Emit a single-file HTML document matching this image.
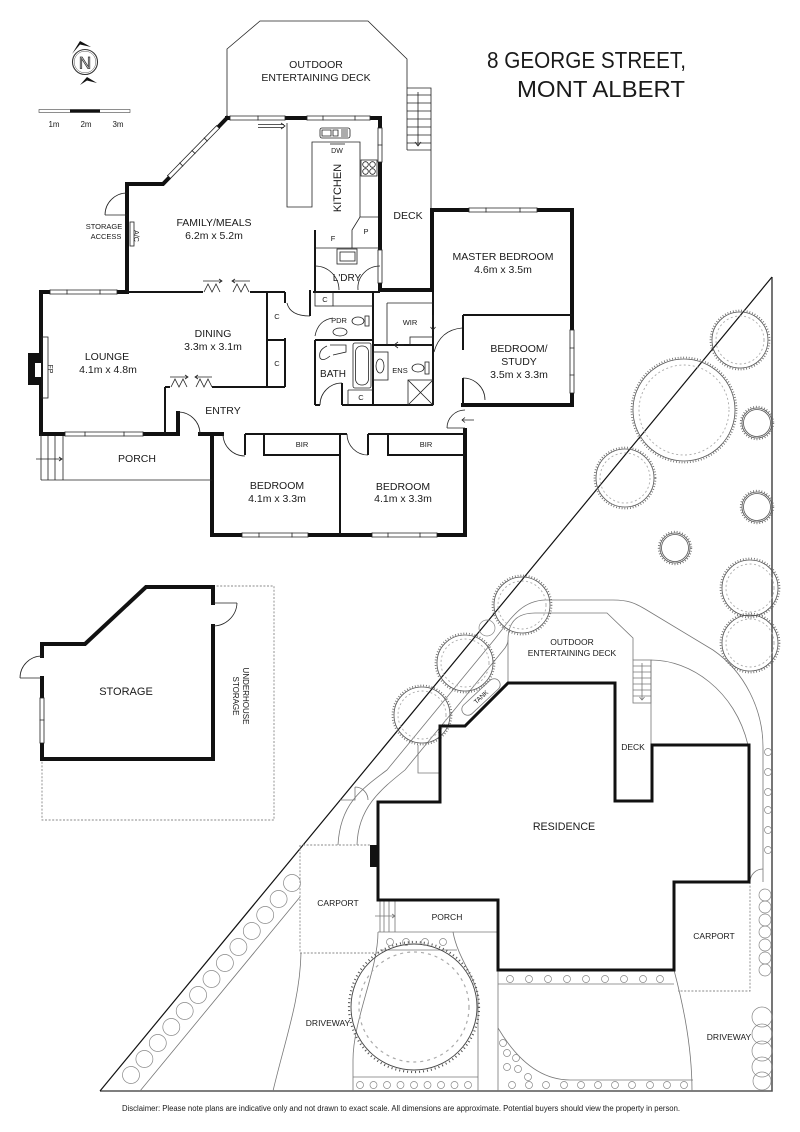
<!DOCTYPE html>
<html><head><meta charset="utf-8">
<style>
html,body{margin:0;padding:0;background:#fff;}
svg{display:block;}
text{font-family:"Liberation Sans",Arial,sans-serif;fill:#1a1a1a;text-anchor:middle;}
.w{stroke:#111;stroke-width:4;fill:none;stroke-linecap:square;stroke-linejoin:miter}
.h{stroke:#111;stroke-width:3;fill:none;stroke-linecap:square;stroke-linejoin:miter}
.m{stroke:#151515;stroke-width:2;fill:none}
.t{stroke:#222;stroke-width:.8;fill:none}
.g{stroke:#777;stroke-width:.8;fill:none}
.gd{stroke:#888;stroke-width:.9;fill:none;stroke-dasharray:2 1.6}
.win{stroke:#fff;stroke-width:5;fill:none}
.c{fill:none;stroke:#888;stroke-width:.7}
.to{fill:none;stroke:#555;stroke-width:.8}
.fr{fill:none;stroke:#666;stroke-width:1.8;stroke-dasharray:.8 2}
.in{fill:none;stroke:#aaa;stroke-width:.9;stroke-dasharray:2 2.5}
.L{font-size:10.5px}
.S{font-size:7.5px}
.P{font-size:8.5px}
</style></head><body>
<svg width="800" height="1132" viewBox="0 0 800 1132" xmlns="http://www.w3.org/2000/svg">

<!-- TITLE -->
<text x="487" y="68" style="font-size:23.5px;text-anchor:start" textLength="199" lengthAdjust="spacingAndGlyphs">8 GEORGE STREET,</text>
<text x="517" y="97" style="font-size:23.5px;text-anchor:start" textLength="168" lengthAdjust="spacingAndGlyphs">MONT ALBERT</text>

<!-- COMPASS -->
<circle cx="85" cy="62" r="12.5" fill="none" stroke="#333" stroke-width="1.1"/>
<circle cx="85" cy="62" r="10.8" fill="none" stroke="#555" stroke-width=".5"/>
<text x="85" y="68.5" style="font-size:17px;fill:#fff;stroke:#333;stroke-width:.8">N</text>
<path d="M72,54 L80,41 L91,47 L80,44.5 Z" fill="#111"/>
<path d="M80,85 L87,77 L97,83 L87,80.5 Z" fill="#111"/>

<!-- SCALE BAR -->
<rect x="39" y="109.5" width="91" height="3" fill="#fff" stroke="#444" stroke-width=".6"/>
<rect x="70" y="109.5" width="30" height="3" fill="#111"/>
<text x="54" y="127" style="font-size:8px">1m</text>
<text x="86" y="127" style="font-size:8px">2m</text>
<text x="118" y="127" style="font-size:8px">3m</text>

<!-- ================= FLOOR PLAN ================= -->
<polyline class="t" points="227,118 227,49 260,21 368,21 407,59 407,150"/>
<polyline class="t" points="407,88 431,88 431,210"/>
<path class="t" d="M407,150H431 M407,95H431 M407,103H431 M407,111H431 M407,119H431 M407,127H431 M407,135H431 M407,143H431"/>
<path class="t" d="M418,92V146 M415,142 L418,146 L421,142"/>
<text x="316" y="68" class="L">OUTDOOR</text>
<text x="316" y="81" class="L">ENTERTAINING DECK</text>

<path class="w" d="M227,118 L380,118 L380,290 L432,290 L432,210 L572,210 L572,405 L463,405"/>
<path class="w" d="M227,118 L163,184 L127,184 L127,292"/>
<path class="w" d="M127,292 L41,292 L41,434 L178,434 L178,413"/>
<path class="w" d="M200,434 L222,434 M212,434 L212,535 L465,535 L465,430"/>
<path class="m" d="M463,315 L463,350 M463,378 L463,405"/>

<path class="win" d="M230,118H285 M307,118H370 M50,292H117 M65,434H143 M242,535H308 M372,535H437 M469,210H537 M380,128V162 M380,250V283 M572,330V393 M218,127 L169,177"/>
<path class="t" d="M230,116H285 M230,120H285 M230,115.5V120.5 M285,115.5V120.5 M258,115.5V120.5"/>
<path class="t" d="M307,116H370 M307,120H370 M307,115.5V120.5 M323,115.5V120.5 M355,115.5V120.5 M370,115.5V120.5"/>
<path class="t" d="M50,290H117 M50,294H117 M50,289.5V294.5 M67,289.5V294.5 M100,289.5V294.5 M117,289.5V294.5"/>
<path class="t" d="M65,432H143 M65,436H143 M65,431.5V436.5 M85,431.5V436.5 M124,431.5V436.5 M143,431.5V436.5"/>
<path class="t" d="M242,533H308 M242,537H308 M242,532.5V537.5 M259,532.5V537.5 M292,532.5V537.5 M308,532.5V537.5"/>
<path class="t" d="M372,533H437 M372,537H437 M372,532.5V537.5 M388,532.5V537.5 M420,532.5V537.5 M437,532.5V537.5"/>
<path class="t" d="M469,208H537 M469,212H537 M469,207.5V212.5 M486,207.5V212.5 M520,207.5V212.5 M537,207.5V212.5"/>
<path class="t" d="M378,128V162 M382,128V162 M377.5,128H382.5 M377.5,145H382.5 M377.5,162H382.5"/>
<path class="t" d="M378,250V283 M382,250V283 M377.5,250H382.5 M377.5,283H382.5"/>
<path class="t" d="M570,330V393 M574,330V393 M569.5,330H574.5 M569.5,348H574.5 M569.5,375H574.5 M569.5,393H574.5"/>
<path class="t" d="M219.4,128.4 L170.4,178.4 M216.6,125.6 L167.6,175.6 M216.2,125.25 L219.8,128.75 M203.9,137.7 L207.6,141.3 M191.7,150.2 L195.3,153.8 M179.4,162.7 L183.1,166.3 M167.2,175.2 L170.8,178.8"/>

<path class="t" d="M258,124.5H284 M258,127.5H284 M281,123 L285,126 L281,129"/>

<path class="m" d="M127,292 L203,292 M250,292 L285,292"/>
<path class="m" d="M267,292 L267,387 M285,292 L285,303 M285,338 L285,387 M267,340 L285,340"/>
<path class="m" d="M165,387 L170,387 M212,387 L285,387 M165,387 L165,434"/>
<path class="m" d="M310,290 L310,316"/>
<path class="m" d="M315,230 L315,292 M313,292 L380,292"/>
<path class="m" d="M315,340 L373,340 M315,340 L315,405 M315,405 L320,405 M342,405 L433,405 M342,383 L342,405"/>
<path class="m" d="M373,292 L373,405 M373,345 L433,345 M433,292 L433,405"/>
<path class="m" d="M245,434 L347,434 M368,434 L465,434 M245,434 L245,455 M368,434 L368,455"/>
<path class="m" d="M340,434 L340,535 M264,434 L264,455 L340,455 M388,434 L388,455 L465,455"/>
<path class="m" d="M463,315 L572,315"/>

<path class="t" d="M203,281H222 M219,279 L222,281 L219,283 M204,292 L208,284 L212,292 L216,284 L220,292"/>
<path class="t" d="M232,281H250 M235,279 L232,281 L235,283 M233,292 L237,284 L241,292 L245,284 L249,292"/>
<path class="t" d="M170,377H188 M185,375 L188,377 L185,379 M171,387 L175,379 L179,387 L183,379 L187,387"/>
<path class="t" d="M195,377H212 M198,375 L195,377 L198,379 M196,387 L200,379 L204,387 L208,379 L212,387"/>

<path class="t" d="M105,215 L127,215 M105,215 A22,22 0 0 1 127,193"/>
<path class="t" d="M200,434 A22,22 0 0 0 178,412"/>
<path class="t" d="M223,434 A22,22 0 0 0 245,456"/>
<path class="t" d="M347,434 A21,21 0 0 0 368,455"/>
<path class="t" d="M287,303 Q290,316 310,316"/>
<path class="t" d="M315,266 A24,24 0 0 1 339,290 M380,266 A22,22 0 0 0 358,290"/>
<path class="t" d="M320,405 A22,22 0 0 1 342,383"/>
<path class="t" d="M315,336 Q318,320 333,318"/>
<path class="t" d="M434,352 Q440,330 462,328"/>
<path class="t" d="M463,378 A22,22 0 0 1 485,400"/>
<path class="t" d="M447,428 L465,428 M447,428 A18,18 0 0 1 465,410 M474,420 L462,420 M465,417.5 L462,420 L465,422.5"/>

<polyline class="t" points="287,123 287,207 312,207 312,142 360,142 360,217"/>
<rect x="320" y="128" width="30" height="10" rx="2" class="t"/>
<path class="t" d="M322,130h9v6h-9z M333,130h5v6h-5z M341,130H348 M341,132H348 M341,134H348 M341,136H348"/>
<path class="t" d="M330,144H345"/>
<text x="337" y="153" style="font-size:7px">DW</text>
<rect x="361" y="160" width="16" height="16" class="t"/>
<circle cx="365.5" cy="164.5" r="2.8" class="t"/><circle cx="372.5" cy="164.5" r="2.8" class="t"/>
<circle cx="365.5" cy="171.5" r="2.8" class="t"/><circle cx="372.5" cy="171.5" r="2.8" class="t"/>
<polyline class="t" points="352,248 352,230 360,217 378,217"/>
<path class="t" d="M315,248 L380,248"/>
<rect x="337" y="249" width="20" height="15" class="t"/>
<rect x="340" y="252" width="15" height="9" class="t"/>
<text transform="translate(341,188) rotate(-90)" style="font-size:11px">KITCHEN</text>
<text x="333" y="241" class="S">F</text>
<text x="366" y="234" class="S">P</text>
<text x="347" y="281" style="font-size:10px">L'DRY</text>

<rect x="315" y="292" width="18" height="14" class="t"/>
<path class="t" d="M333,306 L373,306"/>
<ellipse cx="358" cy="321" rx="6" ry="4" class="t"/>
<rect x="365" y="316" width="4" height="10" class="t"/>
<ellipse cx="340" cy="332" rx="7" ry="4" class="t"/>
<rect x="353" y="343" width="18" height="45" rx="2" class="t"/>
<rect x="355.5" y="346" width="13" height="39" rx="6" class="t"/>
<path class="t" d="M348,390 L373,390 M348,390 L348,405"/>
<path class="t" d="M330,345 L346,345 L346,352 L333,355 M327,346 Q318,350 320,358 Q323,362 330,356"/>
<path class="t" d="M387,303 L387,345 M387,303 L433,303"/>
<rect x="410" y="337" width="23" height="8" class="t"/>
<path class="t" d="M433,315 L433,330 M430.5,327 L433,330 L435.5,327 M398,342 L394,345 L398,348 M394,345 L404,345"/>
<rect x="373" y="352" width="15" height="28" class="t"/>
<ellipse cx="380" cy="366" rx="4" ry="7" class="t"/>
<ellipse cx="418" cy="368" rx="6" ry="4" class="t"/>
<rect x="425" y="362" width="4" height="12" class="t"/>
<rect x="408" y="380" width="25" height="25" class="t"/>
<path class="t" d="M408,380 L433,405 M433,380 L408,405"/>

<rect x="28" y="353" width="13" height="32" fill="#111"/>
<rect x="35" y="363" width="6" height="14" fill="#fff"/>
<rect x="42" y="337" width="6" height="61" class="t"/>
<text transform="translate(48,369) rotate(90)" style="font-size:7px">FP</text>
<path class="t" d="M41,480 L212,480 M41,434 L41,480 M48,436 L48,480 M55,436 L55,480 M63,436 L63,480 M36,459 L62,459 M59,457 L62,459 L59,461"/>

<rect x="130" y="222" width="4" height="24" class="t"/>
<text transform="translate(134,236) rotate(90)" style="font-size:7px">A/C</text>

<text x="104" y="229" class="S">STORAGE</text>
<text x="106" y="239" class="S">ACCESS</text>
<text x="214" y="226" class="L">FAMILY/MEALS</text>
<text x="214" y="239" class="L">6.2m x 5.2m</text>
<text x="408" y="219" class="L">DECK</text>
<text x="503" y="260" class="L">MASTER BEDROOM</text>
<text x="503" y="273" class="L">4.6m x 3.5m</text>
<text x="519" y="352" class="L">BEDROOM/</text>
<text x="519" y="365" class="L">STUDY</text>
<text x="519" y="378" class="L">3.5m x 3.3m</text>
<text x="410" y="325" class="S">WIR</text>
<text x="400" y="373" class="S">ENS</text>
<text x="339" y="323" class="S">PDR</text>
<text x="333" y="377" style="font-size:10px">BATH</text>
<text x="325" y="302" class="S">C</text>
<text x="277" y="319" class="S">C</text>
<text x="277" y="366" class="S">C</text>
<text x="361" y="400" class="S">C</text>
<text x="107" y="360" class="L">LOUNGE</text>
<text x="108" y="373" class="L">4.1m x 4.8m</text>
<text x="213" y="337" class="L">DINING</text>
<text x="213" y="350" class="L">3.3m x 3.1m</text>
<text x="223" y="414" class="L">ENTRY</text>
<text x="137" y="462" class="L">PORCH</text>
<text x="302" y="447" class="S">BIR</text>
<text x="426" y="447" class="S">BIR</text>
<text x="277" y="489" class="L">BEDROOM</text>
<text x="277" y="502" class="L">4.1m x 3.3m</text>
<text x="403" y="490" class="L">BEDROOM</text>
<text x="403" y="502" class="L">4.1m x 3.3m</text>

<!-- ================= STORAGE ================= -->
<path class="gd" d="M213,586 L274,586 L274,820 L42,820 L42,759"/>
<path class="w" d="M42,656 L42,644 L85,644 L146,587 L213,587 L213,603 M213,626 L213,759 L42,759 L42,678"/>
<path class="t" d="M213,603 L237,603 M237,603 A24,24 0 0 1 213,626 M20,678 L42,678 M20,678 A22,22 0 0 1 42,656"/>
<path class="win" d="M42,698V743"/>
<path class="t" d="M40,698V743 M44,698V743 M39.5,698H44.5 M39.5,720H44.5 M39.5,743H44.5"/>
<text x="126" y="695" style="font-size:11px">STORAGE</text>
<text transform="translate(243,696) rotate(90)" style="font-size:8px">UNDERHOUSE</text>
<text transform="translate(233,696) rotate(90)" style="font-size:8px">STORAGE</text>

<!-- ================= SITE PLAN ================= -->
<path d="M772,277 L772,1091 L100,1091" fill="none" stroke="#555" stroke-width="1.6"/>
<path d="M772,277 L100,1091" fill="none" stroke="#111" stroke-width="1.2"/>
<path class="g" d="M140,1091 L300,897"/>

<path class="g" d="M338,845 C340,805 360,790 387,770 L494,640 C510,620 520,601 545,600 L613,600 C628,600 635,603 645,609 L713,650 C745,672 763,710 763,747 L763,882"/>
<path class="g" d="M357,845 C358,808 380,790 405,770 L505,648 C507,645 508,642 508,640"/>
<path class="g" d="M508,683 L508,640 Q508,613 535,613 L607,613 L633,638 L633,660"/>
<rect x="633" y="660" width="18" height="43" class="g"/>
<path class="g" d="M633,666H651 M633,672H651 M633,678H651 M633,684H651 M633,690H651 M633,696H651 M642,663V700 M639.5,697 L642,700 L644.5,697"/>
<path class="g" d="M651,660 L651,745 M651,660 C690,660 735,690 748,745"/>
<path class="g" d="M418,745 L418,773 L440,773"/>
<path class="g" d="M340,800 L355,800 L355,787 M355,787 A13,13 0 0 1 368,800"/>
<path class="gd" d="M303,845 L370,845 M300,845 L300,953 L378,953"/>
<path class="g" d="M301,953 C300,1000 285,1040 273,1091"/>
<path class="g" d="M378,932 L498,932 M380,900 L380,932 M384,900 L384,932 M389,900 L389,932 M395,900 L395,932 M375,916 L395,916 M392,914 L395,916 L392,918"/>
<path class="g" d="M378,932 C378,970 353,1020 353,1060 L353,1091 M453,932 C458,960 478,980 478,1000 L478,1091 M380,950 L457,950 M353,1077 L478,1077"/>
<path class="g" d="M498,970 L498,1091 M498,984 L674,984 M498,1028 C520,1065 545,1080 570,1080 L693,1080"/>
<path class="g" d="M674,970 C680,993 692,1040 692,1091"/>
<path class="gd" d="M750,882 L750,991 L678,991"/>
<path class="g" d="M750,882 A13,13 0 0 1 763,869"/>

<g transform="translate(481,697) rotate(-43)">
<rect x="-24" y="-6" width="48" height="12" rx="6" class="g"/>
<text x="0" y="2.2" style="font-size:6.5px">TANK</text>
</g>

<g>
<circle cx="740" cy="340" r="28" class="to"/><circle cx="740" cy="340" r="29.5" class="fr"/><circle cx="740" cy="340" r="24" class="in"/>
<circle cx="684" cy="410" r="51" class="to"/><circle cx="684" cy="410" r="52.5" class="fr"/><circle cx="684" cy="410" r="45" class="in"/>
<circle cx="625" cy="478" r="29" class="to"/><circle cx="625" cy="478" r="30.5" class="fr"/><circle cx="625" cy="478" r="25" class="in"/>
<circle cx="757" cy="423" r="15" class="to"/><circle cx="757" cy="423" r="16.3" class="fr"/><circle cx="757" cy="423" r="13.5" class="to"/>
<circle cx="757" cy="507" r="15" class="to"/><circle cx="757" cy="507" r="16.3" class="fr"/><circle cx="757" cy="507" r="13.5" class="to"/>
<circle cx="675" cy="548" r="15" class="to"/><circle cx="675" cy="548" r="16.3" class="fr"/><circle cx="675" cy="548" r="13.5" class="to"/>
<circle cx="750" cy="588" r="28" class="to"/><circle cx="750" cy="588" r="29.5" class="fr"/><circle cx="750" cy="588" r="24" class="in"/>
<circle cx="750" cy="643" r="28" class="to"/><circle cx="750" cy="643" r="29.5" class="fr"/><circle cx="750" cy="643" r="24" class="in"/>
<circle cx="522" cy="605" r="28" class="to"/><circle cx="522" cy="605" r="29.5" class="fr"/><circle cx="522" cy="605" r="24" class="in"/>
<circle cx="465" cy="663" r="28" class="to"/><circle cx="465" cy="663" r="29.5" class="fr"/><circle cx="465" cy="663" r="24" class="in"/>
<circle cx="422" cy="715" r="28" class="to"/><circle cx="422" cy="715" r="29.5" class="fr"/><circle cx="422" cy="715" r="24" class="in"/>
<circle cx="487" cy="628" r="8" class="c"/>
<circle cx="414" cy="1007" r="63" fill="none" stroke="#444" stroke-width=".9"/><circle cx="414" cy="1007" r="65" fill="none" stroke="#555" stroke-width="2.2" stroke-dasharray="1 3"/><circle cx="414" cy="1007" r="55" fill="none" stroke="#aaa" stroke-width="1.2" stroke-dasharray="3 4"/>
</g>

<g>
<circle cx="768" cy="752" r="3.5" class="c"/><circle cx="768" cy="772" r="3.5" class="c"/><circle cx="768" cy="792" r="3.5" class="c"/><circle cx="768" cy="810" r="3.5" class="c"/><circle cx="768" cy="830" r="3.5" class="c"/><circle cx="768" cy="850" r="3.5" class="c"/>
<circle cx="765" cy="895" r="6" class="c"/><circle cx="765" cy="907" r="6" class="c"/><circle cx="765" cy="920" r="6" class="c"/><circle cx="765" cy="932" r="6" class="c"/><circle cx="765" cy="945" r="6" class="c"/><circle cx="765" cy="958" r="6" class="c"/><circle cx="765" cy="970" r="6" class="c"/>
<circle cx="762" cy="1017" r="10" class="c"/><circle cx="762" cy="1034" r="10" class="c"/><circle cx="762" cy="1051" r="10" class="c"/><circle cx="762" cy="1067" r="10" class="c"/><circle cx="762" cy="1081" r="9" class="c"/>
<circle cx="510" cy="979" r="3.5" class="c"/><circle cx="529" cy="979" r="3.5" class="c"/><circle cx="548" cy="979" r="3.5" class="c"/><circle cx="567" cy="979" r="3.5" class="c"/><circle cx="586" cy="979" r="3.5" class="c"/><circle cx="605" cy="979" r="3.5" class="c"/><circle cx="624" cy="979" r="3.5" class="c"/><circle cx="643" cy="979" r="3.5" class="c"/><circle cx="660" cy="979" r="3.5" class="c"/>
<circle cx="512" cy="1085" r="3.5" class="c"/><circle cx="529" cy="1085" r="3.5" class="c"/><circle cx="546" cy="1085" r="3.5" class="c"/><circle cx="564" cy="1085" r="3.5" class="c"/><circle cx="581" cy="1085" r="3.5" class="c"/><circle cx="598" cy="1085" r="3.5" class="c"/><circle cx="615" cy="1085" r="3.5" class="c"/><circle cx="632" cy="1085" r="3.5" class="c"/><circle cx="650" cy="1085" r="3.5" class="c"/><circle cx="667" cy="1085" r="3.5" class="c"/><circle cx="684" cy="1085" r="3.5" class="c"/>
<circle cx="503" cy="1043" r="3.5" class="c"/><circle cx="507" cy="1053" r="3.5" class="c"/><circle cx="516" cy="1058" r="3.5" class="c"/><circle cx="507" cy="1067" r="3.5" class="c"/><circle cx="518" cy="1069" r="3.5" class="c"/><circle cx="528" cy="1077" r="3.5" class="c"/>
<circle cx="360" cy="1085" r="3.5" class="c"/><circle cx="373.5" cy="1085" r="3.5" class="c"/><circle cx="387" cy="1085" r="3.5" class="c"/><circle cx="400.5" cy="1085" r="3.5" class="c"/><circle cx="414" cy="1085" r="3.5" class="c"/><circle cx="427.5" cy="1085" r="3.5" class="c"/><circle cx="441" cy="1085" r="3.5" class="c"/><circle cx="454.5" cy="1085" r="3.5" class="c"/><circle cx="468" cy="1085" r="3.5" class="c"/>
<circle cx="390" cy="942" r="3.5" class="c"/><circle cx="406" cy="942" r="3.5" class="c"/><circle cx="425" cy="942" r="3.5" class="c"/><circle cx="443" cy="942" r="3.5" class="c"/>
<circle cx="131" cy="1075" r="8.5" class="c"/><circle cx="144.4" cy="1059" r="8.5" class="c"/><circle cx="157.8" cy="1043" r="8.5" class="c"/><circle cx="171.3" cy="1027" r="8.5" class="c"/><circle cx="184.7" cy="1011" r="8.5" class="c"/><circle cx="198.1" cy="995" r="8.5" class="c"/><circle cx="211.5" cy="979" r="8.5" class="c"/><circle cx="224.9" cy="963" r="8.5" class="c"/><circle cx="238.4" cy="947" r="8.5" class="c"/><circle cx="251.8" cy="931" r="8.5" class="c"/><circle cx="265.2" cy="915" r="8.5" class="c"/><circle cx="278.6" cy="899" r="8.5" class="c"/><circle cx="292" cy="883" r="8.5" class="c"/>
</g>

<path class="h" d="M508,683 L615,683 L615,801 L652,801 L652,745 L749,745 L749,882 L674,882 L674,970 L498,970 L498,900 L378,900 L378,802 L440,802 L440,726 L465,726 Z"/>
<rect x="370" y="845" width="8" height="22" fill="#111"/>

<text x="572" y="645" class="P">OUTDOOR</text>
<text x="572" y="656" class="P">ENTERTAINING DECK</text>
<text x="633" y="750" class="P">DECK</text>
<text x="564" y="830" style="font-size:10.7px">RESIDENCE</text>
<text x="338" y="906" class="P">CARPORT</text>
<text x="447" y="920" class="P">PORCH</text>
<text x="328" y="1026" class="P">DRIVEWAY</text>
<text x="714" y="939" class="P">CARPORT</text>
<text x="729" y="1040" class="P">DRIVEWAY</text>

<text x="122" y="1111" style="font-size:8px;text-anchor:start" textLength="558" lengthAdjust="spacingAndGlyphs">Disclaimer: Please note plans are indicative only and not drawn to exact scale. All dimensions are approximate. Potential buyers should view the property in person.</text>
</svg>
</body></html>
